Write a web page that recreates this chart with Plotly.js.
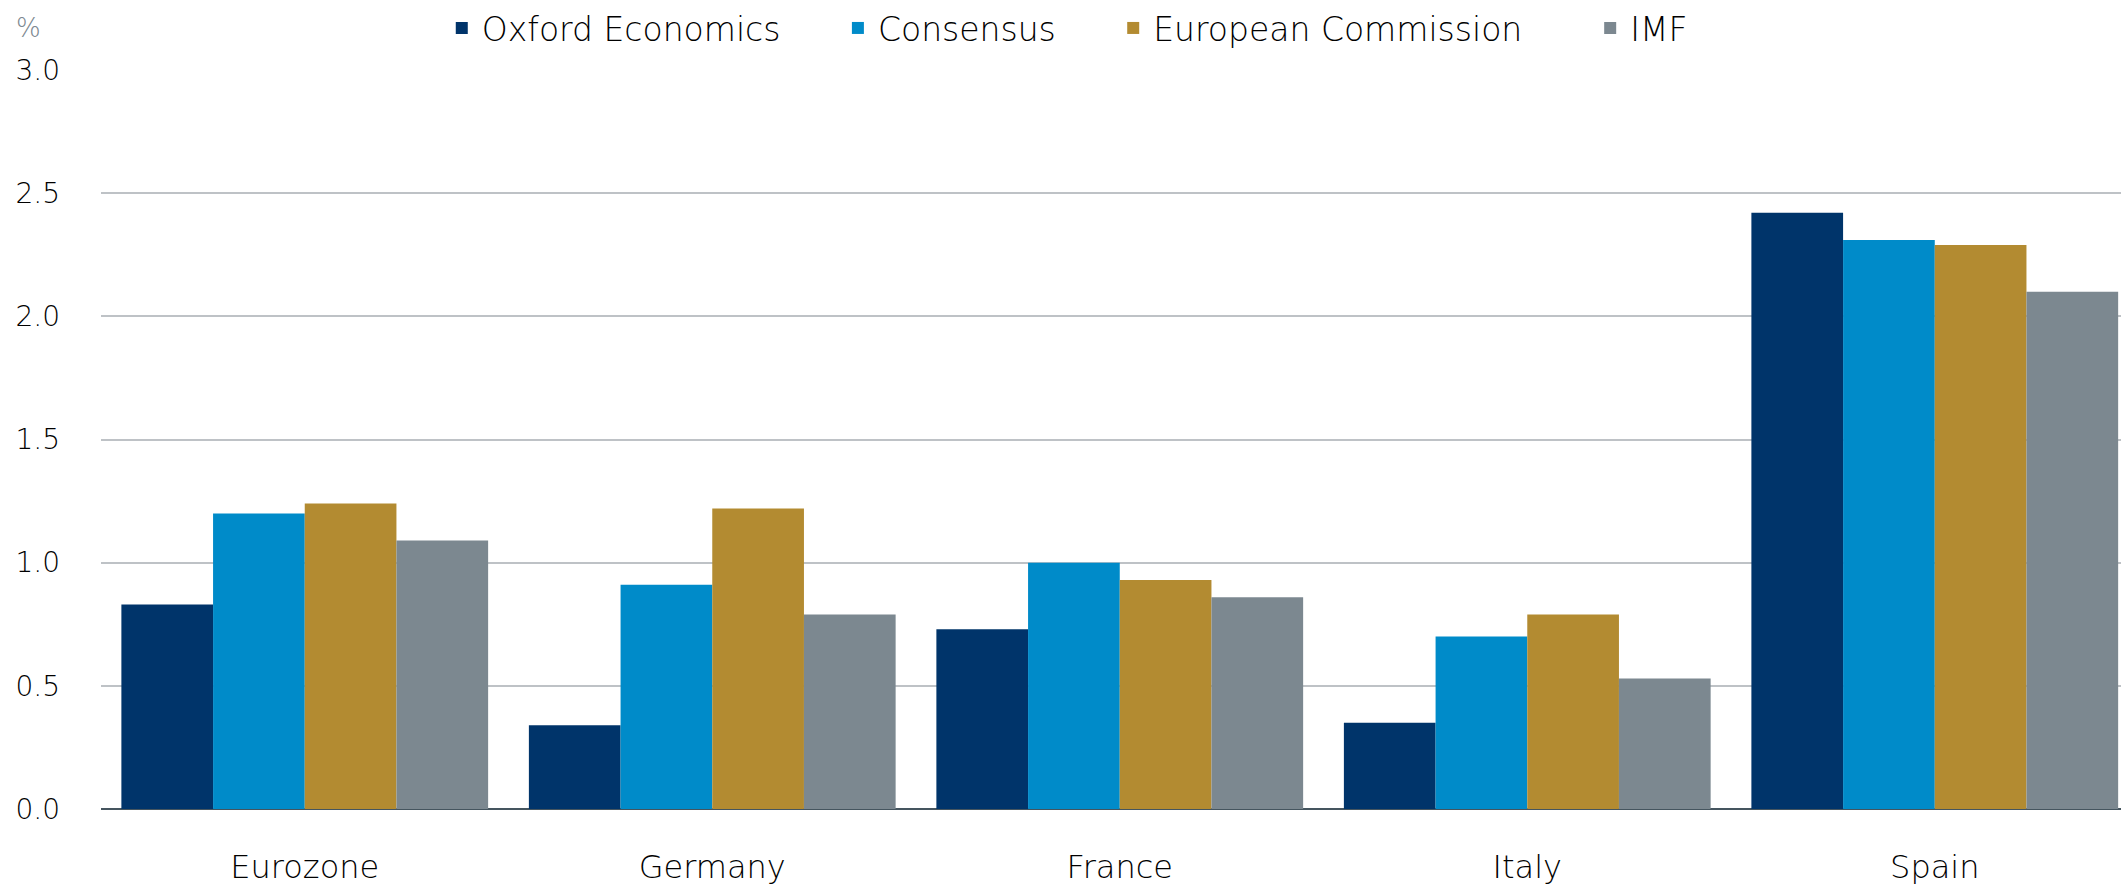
<!DOCTYPE html>
<html>
<head>
<meta charset="utf-8">
<script src="https://cdn.plot.ly/plotly-3.0.1.min.js"></script>
<style>
  html, body { margin: 0; padding: 0; background: #ffffff; }
  #chart { width: 2121px; height: 886px; }
</style>
</head>
<body>
<div id="chart"></div>
<script>
const categories = ["Eurozone", "Germany", "France", "Italy", "Spain"];
const seriesNames = ["Oxford Economics", "Consensus", "European Commission", "IMF"];
const oxfordEconomics = [0.83, 0.34, 0.73, 0.35, 2.42];
const consensus = [1.20, 0.91, 1.00, 0.70, 2.31];
const europeanCommission = [1.24, 1.22, 0.93, 0.79, 2.29];
const imf = [1.09, 0.79, 0.86, 0.53, 2.10];
const yTickValues = [0, 0.5, 1.0, 1.5, 2.0, 2.5, 3.0];
const yTickLabels = ["0.0", "0.5", "1.0", "1.5", "2.0", "2.5", "3.0"];

const colors = ["#00346A", "#008BC9", "#B38B31", "#7C8890"];
const seriesValues = [oxfordEconomics, consensus, europeanCommission, imf];
const NB = "\u00a0";
const pad = [NB.repeat(5), NB.repeat(5), NB.repeat(6), ""];

const FONT = "DejaVu Sans, sans-serif";
const TXT = "#000000";

const traces = seriesNames.map((name, i) => ({
  type: "bar",
  name: name + pad[i],
  x: categories,
  y: seriesValues[i],
  marker: { color: colors[i], line: { width: 0 } },
  hoverinfo: "x+y+name"
}));

const layout = {
  width: 2121,
  height: 886,
  margin: { l: 101, r: 0, t: 70, b: 77, pad: 0 },
  paper_bgcolor: "#ffffff",
  plot_bgcolor: "#ffffff",
  barmode: "group",
  bargap: 0.1,
  bargroupgap: 0,
  font: { family: FONT, size: 28, color: TXT, weight: 300 },
  showlegend: true,
  legend: {
    orientation: "h",
    x: 0.1687,
    xanchor: "left",
    y: 1.057,
    yanchor: "middle",
    font: { family: FONT, size: 33, color: TXT, weight: 300 },
    bgcolor: "rgba(0,0,0,0)",
    traceorder: "normal",
    itemclick: false
  },
  xaxis: {
    type: "category",
    range: [-0.5, 4.457],
    showgrid: false,
    showline: false,
    zeroline: false,
    ticks: "",
    ticklabelstandoff: 36,
    tickfont: { family: FONT, size: 32, color: TXT, weight: 300 },
    fixedrange: true
  },
  yaxis: {
    range: [0, 3],
    tickvals: yTickValues,
    ticktext: yTickLabels,
    showgrid: true,
    gridcolor: "#BEC2C6",
    gridwidth: 2,
    zeroline: true,
    zerolinecolor: "#45555F",
    zerolinewidth: 2,
    showline: false,
    ticks: "",
    ticklabelstandoff: 40,
    tickfont: { family: FONT, size: 28, color: TXT, weight: 300 },
    fixedrange: true
  },
  annotations: [{
    text: "%",
    xref: "paper",
    yref: "paper",
    x: -0.043,
    xanchor: "left",
    y: 1.057,
    yanchor: "middle",
    showarrow: false,
    font: { family: FONT, size: 26, color: "#7C8890", weight: 300 }
  }]
};

Plotly.newPlot("chart", traces, layout, { displayModeBar: false, staticPlot: true });
</script>
</body>
</html>
